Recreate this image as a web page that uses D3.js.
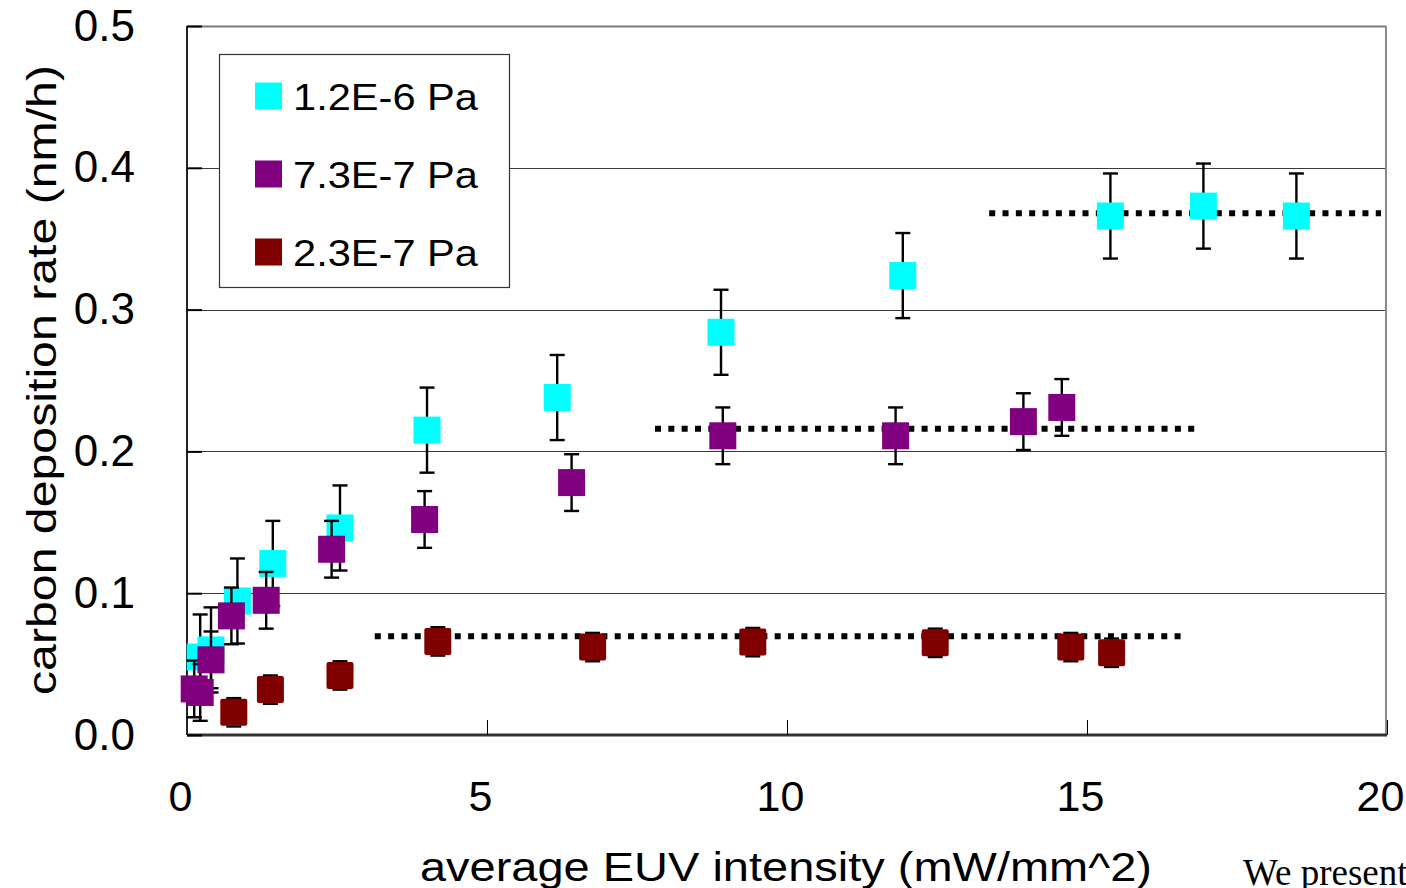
<!DOCTYPE html>
<html>
<head>
<meta charset="utf-8">
<script src="https://cdn.jsdelivr.net/npm/d3@7"></script>
<style>
  html, body { margin: 0; padding: 0; background: #fff; overflow: hidden; }
  svg { display: block; }
  text { fill: #000; }
</style>
</head>
<body>
<svg id="chart" width="1406" height="888"></svg>
<script>
// Intensity (mW/mm^2) and deposition rate (nm/h) per chamber pressure
const seriesNames = ["1.2E-6 Pa", "7.3E-7 Pa", "2.3E-7 Pa"];
const seriesColors = ["#00FFFF", "#800080", "#800000"];

const cyanX = [0.22, 0.40, 0.84, 1.43, 2.55, 4.00, 6.17, 8.90, 11.93, 15.39, 16.94, 18.49];
const cyanY = [0.055, 0.060, 0.0945, 0.121, 0.146, 0.215, 0.238, 0.284, 0.324, 0.366, 0.373, 0.366];
const cyanErr = 0.03;

const purpleX = [0.12, 0.22, 0.40, 0.74, 1.32, 2.41, 3.96, 6.41, 8.93, 11.81, 13.94, 14.58];
const purpleY = [0.0325, 0.030, 0.053, 0.084, 0.095, 0.131, 0.152, 0.178, 0.211, 0.211, 0.221, 0.231];
const purpleErr = 0.02;

const redX = [0.78, 1.39, 2.55, 4.18, 6.76, 9.43, 12.47, 14.73, 15.41];
const redY = [0.016, 0.032, 0.042, 0.066, 0.062, 0.0655, 0.065, 0.062, 0.058];
const redErr = 0.01;

// Saturation levels (dotted guides): [x start, x end, level]
const plateauCyan = [13.37, 19.9, 0.368];
const plateauPurple = [7.8, 16.88, 0.216];
const plateauRed = [3.13, 16.67, 0.0697];

const xTicks = [0, 5, 10, 15, 20];
const yTicks = [0, 0.1, 0.2, 0.3, 0.4, 0.5];
const xTitle = "average EUV intensity (mW/mm^2)";
const yTitle = "carbon deposition rate (nm/h)";
const trailingText = "We present";

const series = [
  { name: seriesNames[0], color: seriesColors[0], xs: cyanX, ys: cyanY, err: cyanErr, plateau: plateauCyan },
  { name: seriesNames[1], color: seriesColors[1], xs: purpleX, ys: purpleY, err: purpleErr, plateau: plateauPurple },
  { name: seriesNames[2], color: seriesColors[2], xs: redX, ys: redY, err: redErr, plateau: plateauRed }
];

const sans = "'Liberation Sans', Arial, sans-serif";
const svg = d3.select("#chart");
const plotL = 187, plotR = 1387, plotT = 26, plotB = 735;
const x = d3.scaleLinear().domain([0, 20]).range([plotL, plotR]);
const y = d3.scaleLinear().domain([0, 0.5]).range([plotB, plotT]);

// horizontal grid lines
svg.append("g").selectAll("line")
  .data(yTicks.filter(v => v > 0 && v < 0.5))
  .join("line")
  .attr("x1", plotL).attr("x2", plotR - 1)
  .attr("y1", d => Math.round(y(d)) + 0.5).attr("y2", d => Math.round(y(d)) + 0.5)
  .attr("stroke", "#3a3a3a").attr("stroke-width", 1.2);

// frame: top and right edges
svg.append("line").attr("x1", plotL).attr("x2", plotR - 1).attr("y1", plotT + 0.5).attr("y2", plotT + 0.5)
  .attr("stroke", "#7a7a7a").attr("stroke-width", 2);
svg.append("line").attr("x1", plotR - 1).attr("x2", plotR - 1).attr("y1", plotT).attr("y2", plotB)
  .attr("stroke", "#8a8a8a").attr("stroke-width", 2);

// axes
const xAxis = d3.axisBottom(x).tickValues(xTicks).tickFormat(d3.format("d")).tickSize(-15).tickPadding(45);
const yAxis = d3.axisLeft(y).tickValues(yTicks).tickFormat(d3.format(".1f")).tickSize(-15).tickPadding(52);

const gx = svg.append("g").attr("transform", `translate(0,${plotB})`).call(xAxis);
gx.select(".domain").attr("stroke", "#333").attr("stroke-width", 3).attr("d", `M${plotL},0H${plotR}`);
gx.selectAll(".tick line").attr("stroke", "#000").attr("stroke-width", 1);
gx.selectAll(".tick text").attr("font-size", 43).attr("font-family", sans).attr("fill", "#000").attr("dx", -7);

const gy = svg.append("g").attr("transform", `translate(${plotL},0)`).call(yAxis);
gy.select(".domain").attr("stroke", "#222").attr("stroke-width", 2).attr("d", `M0,${plotT}V${plotB}`);
gy.selectAll(".tick line").attr("stroke", "#000").attr("stroke-width", 2);
gy.selectAll(".tick text").attr("font-size", 44).attr("font-family", sans).attr("fill", "#000");

// axis titles
svg.append("text")
  .attr("transform", `translate(56,380) rotate(-90)`)
  .attr("text-anchor", "middle")
  .attr("font-family", sans)
  .attr("font-size", 41)
  .attr("textLength", 630)
  .attr("lengthAdjust", "spacingAndGlyphs")
  .text(yTitle);

svg.append("text")
  .attr("x", 786).attr("y", 881)
  .attr("text-anchor", "middle")
  .attr("font-family", sans)
  .attr("font-size", 41)
  .attr("textLength", 732)
  .attr("lengthAdjust", "spacingAndGlyphs")
  .text(xTitle);

svg.append("text")
  .attr("x", 1243).attr("y", 885)
  .attr("font-family", "'Liberation Serif', 'Times New Roman', serif")
  .attr("font-size", 37)
  .text(trailingText);

// dotted plateau guides
svg.append("g").selectAll("line")
  .data(series)
  .join("line")
  .attr("x1", d => x(d.plateau[0])).attr("x2", d => x(d.plateau[1]))
  .attr("y1", d => y(d.plateau[2])).attr("y2", d => y(d.plateau[2]))
  .attr("stroke", "#000").attr("stroke-width", 6)
  .attr("stroke-dasharray", "6 7.33");

// data: error bars then square markers, series by series
const half = 13.5, cap = 7.5;
series.forEach(s => {
  const pts = s.xs.map((v, i) => ({ x: v, y: s.ys[i] }));
  const g = svg.append("g");
  const eb = g.append("g").selectAll("g").data(pts).join("g");
  eb.append("line")
    .attr("x1", d => x(d.x)).attr("x2", d => x(d.x))
    .attr("y1", d => y(d.y - s.err)).attr("y2", d => y(d.y + s.err))
    .attr("stroke", "#000").attr("stroke-width", 2.4);
  [-1, 1].forEach(sign => {
    eb.append("line")
      .attr("x1", d => x(d.x) - cap).attr("x2", d => x(d.x) + cap)
      .attr("y1", d => y(d.y + sign * s.err)).attr("y2", d => y(d.y + sign * s.err))
      .attr("stroke", "#000").attr("stroke-width", 2.4);
  });
  g.append("g").selectAll("rect").data(pts).join("rect")
    .attr("x", d => x(d.x) - half).attr("y", d => y(d.y) - half)
    .attr("width", half * 2).attr("height", half * 2)
    .attr("rx", s.color === "#800000" ? 2 : 0)
    .attr("fill", s.color);
});

// legend
const legend = svg.append("g");
legend.append("rect")
  .attr("x", 219.5).attr("y", 54.5).attr("width", 290).attr("height", 233)
  .attr("fill", "#fff").attr("stroke", "#333").attr("stroke-width", 1.2);
const legendRows = [96, 174, 252];
series.forEach((s, i) => {
  legend.append("rect")
    .attr("x", 255).attr("y", legendRows[i] - 13.5)
    .attr("width", 27).attr("height", 27)
    .attr("fill", s.color);
  legend.append("text")
    .attr("x", 293).attr("y", legendRows[i] + 14)
    .attr("font-family", sans)
    .attr("font-size", 37)
    .attr("textLength", 185)
    .attr("lengthAdjust", "spacingAndGlyphs")
    .text(s.name);
});
</script>
</body>
</html>
